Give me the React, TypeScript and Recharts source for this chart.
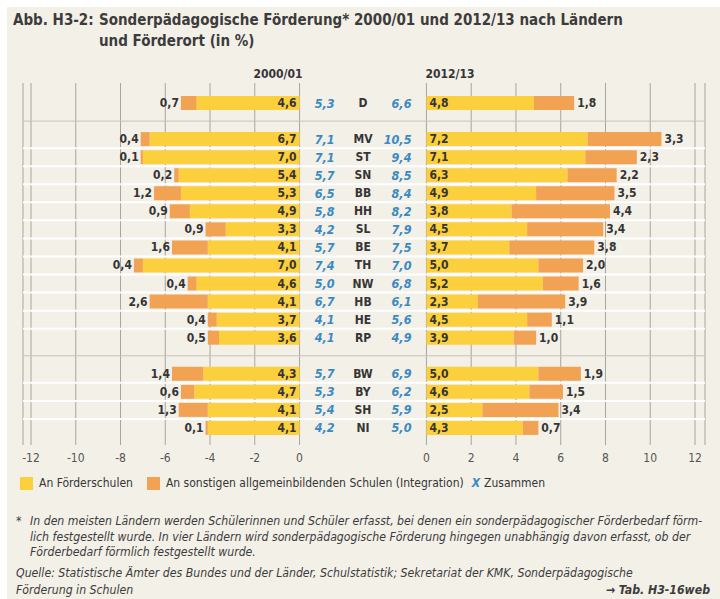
import React from 'react';
import { Bar, CartesianGrid, ComposedChart, LabelList, ReferenceLine, XAxis, YAxis } from 'recharts';

const FONT = '"Liberation Sans Narrow", "DejaVu Sans Condensed", "Roboto Condensed", Roboto, sans-serif';
const YELLOW = '#fccf3c';
const ORANGE = '#f2a253';
const BLUE = '#3a8ac2';
const TEXT = '#353535';
const BG = '#f3f0e8';
const GRID = '#aaa59c';

// Länder in drawing order, split into the three blocks of the chart
const groups = [
  ['D'],
  ['MV', 'ST', 'SN', 'BB', 'HH', 'SL', 'BE', 'TH', 'NW', 'HB', 'HE', 'RP'],
  ['BW', 'BY', 'SH', 'NI'],
];

// 2000/01, in % (same order as the flattened groups)
const schulen2000 = [4.6, 6.7, 7.0, 5.4, 5.3, 4.9, 3.3, 4.1, 7.0, 4.6, 4.1, 3.7, 3.6, 4.3, 4.7, 4.1, 4.1];
const integration2000 = [0.7, 0.4, 0.1, 0.2, 1.2, 0.9, 0.9, 1.6, 0.4, 0.4, 2.6, 0.4, 0.5, 1.4, 0.6, 1.3, 0.1];
const total2000 = [5.3, 7.1, 7.1, 5.7, 6.5, 5.8, 4.2, 5.7, 7.4, 5.0, 6.7, 4.1, 4.1, 5.7, 5.3, 5.4, 4.2];

// 2012/13, in %
const schulen2012 = [4.8, 7.2, 7.1, 6.3, 4.9, 3.8, 4.5, 3.7, 5.0, 5.2, 2.3, 4.5, 3.9, 5.0, 4.6, 2.5, 4.3];
const integration2012 = [1.8, 3.3, 2.3, 2.2, 3.5, 4.4, 3.4, 3.8, 2.0, 1.6, 3.9, 1.1, 1.0, 1.9, 1.5, 3.4, 0.7];
const total2012 = [6.6, 10.5, 9.4, 8.5, 8.4, 8.2, 7.9, 7.5, 7.0, 6.8, 6.1, 5.6, 4.9, 6.9, 6.2, 5.9, 5.0];

const axisTicks = [-12, -10, -8, -6, -4, -2, 0, 2, 4, 6, 8, 10, 12];

// width of the middle column (code + totals), in axis units
const GAP = 5.67;

type Row = {
  code: string;
  gap?: boolean;
  f00?: number;
  i00?: number;
  base?: number;
  f12?: number;
  i12?: number;
  t00?: number;
  t12?: number;
};

const rows: Row[] = [];
let n = 0;
groups.forEach((g, gi) => {
  if (gi > 0) rows.push({ code: `gap${gi}`, gap: true });
  g.forEach((code) => {
    rows.push({
      code,
      f00: -schulen2000[n],
      i00: -integration2000[n],
      base: GAP,
      f12: schulen2012[n],
      i12: integration2012[n],
      t00: total2000[n],
      t12: total2012[n],
    });
    n += 1;
  });
});

const xTicks = [
  ...axisTicks.filter((t) => t <= 0),
  ...axisTicks.filter((t) => t >= 0).map((t) => t + GAP),
];

const fmt = (v: number) => Math.abs(v).toFixed(1).replace('.', ',');

function geom(p: any) {
  const vb = p.viewBox ?? {};
  const x = Number(p.x ?? vb.x);
  const y = Number(p.y ?? vb.y);
  const w = Number(p.width ?? vb.width);
  const h = Number(p.height ?? vb.height);
  return { left: Math.min(x, x + w), right: Math.max(x, x + w), cy: y + h / 2, w: Math.abs(w) };
}

const numStyle = { fontSize: 12, fontWeight: 700, fill: TEXT } as const;

function barLabel(side: 'inLeft' | 'outLeft' | 'inRight' | 'outRight') {
  return (p: any) => {
    if (p.value == null) return null;
    const { left, right, cy } = geom(p);
    let x = left;
    let anchor: 'start' | 'end' = 'start';
    if (side === 'inLeft') { x = right - 3; anchor = 'end'; }
    if (side === 'outLeft') { x = left - 2; anchor = 'end'; }
    if (side === 'inRight') { x = left + 3; anchor = 'start'; }
    if (side === 'outRight') { x = right + 3; anchor = 'start'; }
    return (
      <text x={x} y={cy} textAnchor={anchor} dominantBaseline="central" {...numStyle}>
        {fmt(Number(p.value))}
      </text>
    );
  };
}

function middleLabel(p: any) {
  const row = rows.find((r) => r.code === p.value);
  if (!row || row.gap) return null;
  const { left, cy, w } = geom(p);
  return (
    <g>
      <text x={left + w * 0.276} y={cy} textAnchor="end" dominantBaseline="central"
        fontSize={12.5} fontStyle="italic" fontWeight={700} fill={BLUE}>
        {fmt(row.t00 as number)}
      </text>
      <text x={left + w * 0.5} y={cy} textAnchor="middle" dominantBaseline="central"
        fontSize={12} fontWeight={700} fill={TEXT}>
        {row.code}
      </text>
      <text x={left + w * 0.882} y={cy} textAnchor="end" dominantBaseline="central"
        fontSize={12.5} fontStyle="italic" fontWeight={700} fill={BLUE}>
        {fmt(row.t12 as number)}
      </text>
    </g>
  );
}

// white separator lines between neighbouring Länder rows
function rowSeparators({ yAxis, offset }: any) {
  const out: number[] = [];
  const scale = yAxis?.scale;
  const step = (offset.height - 19) / rows.length;
  rows.forEach((r, i) => {
    const next = rows[i + 1];
    if (!next || r.gap || next.gap) return;
    const y = typeof scale === 'function' ? scale(next.code) : offset.top + 11 + step * (i + 1);
    out.push(Number(y));
  });
  return out;
}

const tickFmt = (v: number) => String(Math.round(v > GAP / 2 ? v - GAP : v));

const footLine = (top: number, left: number, text: React.ReactNode, extra: React.CSSProperties = {}) => (
  <div style={{ position: 'absolute', top, left, whiteSpace: 'nowrap', lineHeight: '16px', ...extra }}>{text}</div>
);

export default function App() {
  return (
    <div style={{ position: 'absolute', left: 0, top: 0, width: 720, height: 599, background: '#fff', fontFamily: FONT, color: TEXT, overflow: 'hidden' }}>
      <div style={{ position: 'absolute', left: 7, top: 7, right: 0, bottom: 0, background: BG }} />

      <div style={{ position: 'absolute', left: 13, top: 10, fontSize: 15, fontWeight: 700, lineHeight: '21px', color: '#3c3c3c', display: 'flex', whiteSpace: 'nowrap' }}>
        <div style={{ width: 86 }}>Abb. H3-2:</div>
        <div>
          Sonderpädagogische Förderung* 2000/01 und 2012/13 nach Ländern
          <br />
          und Förderort (in %)
        </div>
      </div>

      <div style={{ position: 'absolute', left: 248, top: 67, width: 60, textAlign: 'center', fontSize: 12, fontWeight: 700 }}>2000/01</div>
      <div style={{ position: 'absolute', left: 420, top: 67, width: 60, textAlign: 'center', fontSize: 12, fontWeight: 700 }}>2012/13</div>

      <div style={{ position: 'absolute', left: 0, top: 0 }}>
        <ComposedChart
          width={720}
          height={470}
          data={rows}
          layout="vertical"
          stackOffset="sign"
          barSize={14}
          margin={{ top: 83, right: 15, bottom: 0, left: 23 }}
        >
          <CartesianGrid horizontal={false} stroke={GRID} strokeWidth={1} />
          <CartesianGrid vertical={false} stroke="#ffffff" strokeWidth={2} horizontalCoordinatesGenerator={rowSeparators} />
          <ReferenceLine y="gap1" stroke="#c9c3b7" strokeWidth={1} />
          <ReferenceLine y="gap2" stroke="#c9c3b7" strokeWidth={1} />
          <XAxis
            type="number"
            domain={[-12, 12 + GAP]}
            ticks={xTicks}
            tickFormatter={tickFmt}
            axisLine={false}
            tickLine={false}
            height={25}
            padding={{ left: 8, right: 10 }}
            tick={{ fontSize: 12, fill: '#555' }}
            allowDataOverflow
          />
          <YAxis type="category" dataKey="code" hide padding={{ top: 11, bottom: 8 }} />
          <Bar dataKey="f00" stackId="s" fill={YELLOW} isAnimationActive={false}>
            <LabelList dataKey="f00" content={barLabel('inLeft')} />
          </Bar>
          <Bar dataKey="i00" stackId="s" fill={ORANGE} isAnimationActive={false}>
            <LabelList dataKey="i00" content={barLabel('outLeft')} />
          </Bar>
          <Bar dataKey="base" stackId="s" fill="transparent" isAnimationActive={false}>
            <LabelList dataKey="code" content={middleLabel} />
          </Bar>
          <Bar dataKey="f12" stackId="s" fill={YELLOW} isAnimationActive={false}>
            <LabelList dataKey="f12" content={barLabel('inRight')} />
          </Bar>
          <Bar dataKey="i12" stackId="s" fill={ORANGE} isAnimationActive={false}>
            <LabelList dataKey="i12" content={barLabel('outRight')} />
          </Bar>
        </ComposedChart>
      </div>

      <div style={{ position: 'absolute', left: 20, top: 476, display: 'flex', alignItems: 'center', fontSize: 12, whiteSpace: 'nowrap' }}>
        <span style={{ width: 13, height: 13, background: YELLOW, display: 'inline-block', marginRight: 6 }} />
        <span style={{ marginRight: 14 }}>An Förderschulen</span>
        <span style={{ width: 13, height: 13, background: ORANGE, display: 'inline-block', marginRight: 6 }} />
        <span style={{ marginRight: 8 }}>An sonstigen allgemeinbildenden Schulen (Integration)</span>
        <span style={{ color: BLUE, fontStyle: 'italic', fontWeight: 700, marginRight: 4 }}>X</span>
        <span>Zusammen</span>
      </div>

      <div style={{ fontSize: 12.2, fontStyle: 'italic', color: '#3c3c3c' }}>
        {footLine(513, 16, '*')}
        {footLine(513, 30, 'In den meisten Ländern werden Schülerinnen und Schüler erfasst, bei denen ein sonderpädagogischer Förderbedarf förm-')}
        {footLine(529, 30, 'lich festgestellt wurde. In vier Ländern wird sonderpädagogische Förderung hingegen unabhängig davon erfasst, ob der')}
        {footLine(544, 30, 'Förderbedarf förmlich festgestellt wurde.')}
        {footLine(565, 16, 'Quelle: Statistische Ämter des Bundes und der Länder, Schulstatistik; Sekretariat der KMK, Sonderpädagogische')}
        {footLine(582, 16, 'Förderung in Schulen')}
        {footLine(582, 0, '→ Tab. H3-16web', { left: undefined, right: 10, fontWeight: 700 })}
      </div>
    </div>
  );
}
